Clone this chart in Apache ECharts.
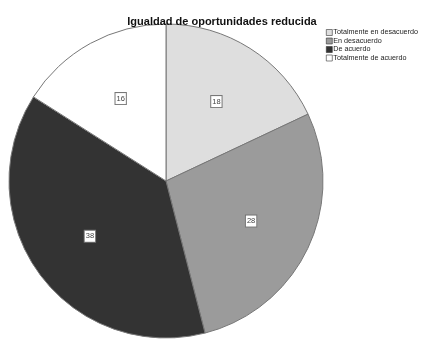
<!DOCTYPE html>
<html><head><meta charset="utf-8">
<script src="https://cdn.jsdelivr.net/npm/echarts@6/dist/echarts.min.js"></script>
<style>html,body{margin:0;padding:0;background:#fff}#c{width:422px;height:341px}</style>
</head><body><div id="c"></div>
<script>
const titleText = "Igualdad de oportunidades reducida";
const categories = ["Totalmente en desacuerdo", "En desacuerdo", "De acuerdo", "Totalmente de acuerdo"];
const values = [18, 28, 38, 16];
const colors = ["#dedede", "#9b9b9b", "#333333", "#ffffff"];

const chart = echarts.init(document.getElementById('c'), null, {renderer: 'canvas'});
const R = 157;
const data = categories.map((n, i) => ({name: n, value: values[i], itemStyle: {color: colors[i]}}));
chart.setOption({
  animation: false,
  title: {text: titleText, left: 217, top: 11, textAlign: 'center',
    textStyle: {fontFamily: 'Liberation Sans, Arial', fontSize: 11, fontWeight: 'bold', color: '#111'}},
  legend: {orient: 'vertical', left: 321, top: 24, itemGap: 1.5, itemWidth: 6, itemHeight: 6,
    icon: 'rect',
    data: categories,
    itemStyle: {borderColor: '#333', borderWidth: 0.6},
    textStyle: {fontFamily: 'Liberation Sans, Arial', fontSize: 7.2, color: '#222', padding: [0,0,0,-4]}},
  series: [{
    type: 'pie', center: [166, 181], radius: [0, R], startAngle: 90, clockwise: true,
    data: data,
    itemStyle: {borderColor: '#777', borderWidth: 1},
    label: {show: false}, labelLine: {show: false}, emphasis: {disabled: true}
  }, {
    type: 'pie', center: [166, 181], radius: [R * 0.16, R], startAngle: 90, clockwise: true,
    silent: true, legendHoverLink: false,
    data: categories.map((n, i) => ({name: n, value: values[i], itemStyle: {color: 'rgba(0,0,0,0)', borderWidth: 0}})),
    label: {show: true, position: 'inside', formatter: p => String(p.value),
      fontFamily: 'Liberation Sans, Arial', fontSize: 7.5, color: '#444',
      backgroundColor: '#fff', borderColor: '#777', borderWidth: 1, padding: [2, 1, 1, 1]},
    labelLine: {show: false}, emphasis: {disabled: true}
  }]
});
</script></body></html>
